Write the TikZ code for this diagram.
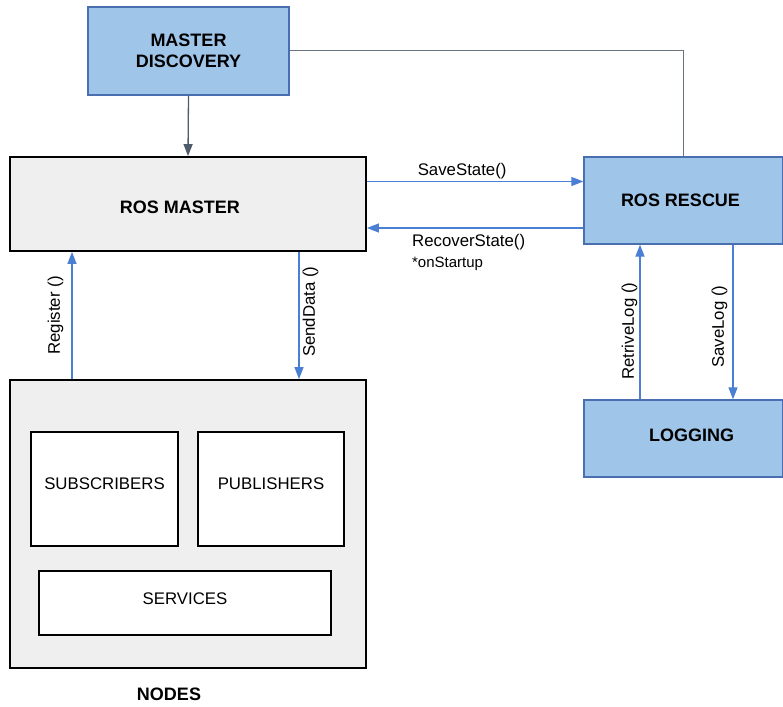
\documentclass[tikz,border=0pt]{standalone}
\usepackage{fontspec}
\setmainfont{Liberation Sans}
\usetikzlibrary{arrows.meta}
\definecolor{lblue}{HTML}{9FC5E8}
\definecolor{bblue}{HTML}{4A6FB0}
\definecolor{ablue}{HTML}{4A7FD4}
\definecolor{agray}{HTML}{4F5B6B}
\definecolor{lgray}{HTML}{EFEFEF}
\tikzset{
  bluebox/.style={draw=bblue, fill=lblue, line width=1.3pt, inner sep=0pt, font=\fontsize{18}{21.5}\selectfont\bfseries, align=center},
  graybox/.style={draw=black, fill=lgray, line width=1.8pt, inner sep=0pt, font=\fontsize{18}{21.5}\selectfont\bfseries},
  whitebox/.style={draw=black, fill=white, line width=1.6pt, inner sep=0pt},
  lbl/.style={font=\fontsize{16.8}{18}\selectfont},
  arr/.style={draw=ablue, line width=1.3pt, -{Triangle[length=12pt,width=9pt]}},
  garr/.style={draw=agray, line width=1.3pt, -{Triangle[length=12pt,width=9pt]}},
  gline/.style={draw=agray!85, line width=1pt},
}
\begin{document}
\begin{tikzpicture}[x=1pt,y=-1pt]
\useasboundingbox (0,0) rectangle (783,706);
% boxes
\node[bluebox, minimum width=201pt, minimum height=88pt] (md) at (188.5,51) {MASTER\\DISCOVERY};
\node[graybox, minimum width=356pt, minimum height=94pt,
      label={[font=\fontsize{18}{21.5}\selectfont\bfseries, xshift=-8pt, yshift=-3pt]center:ROS MASTER}] (rm) at (188,204) {};
\node[bluebox, minimum width=199pt, minimum height=87pt,
      label={[font=\fontsize{18}{21.5}\selectfont\bfseries, xshift=-3pt, yshift=0pt]center:ROS RESCUE}] (rescue) at (683.5,200.5) {};
\node[bluebox, minimum width=199pt, minimum height=77pt,
      label={[font=\fontsize{18}{21.5}\selectfont\bfseries, xshift=8pt, yshift=3pt]center:LOGGING}] (log) at (683.5,438.5) {};
\node[graybox, minimum width=356pt, minimum height=288pt] (nodes) at (188,524) {};
\node[whitebox, minimum width=147pt, minimum height=114pt,
      label={[lbl, yshift=5pt]center:SUBSCRIBERS}] (sub) at (104.5,489) {};
\node[whitebox, minimum width=146pt, minimum height=114pt,
      label={[lbl, yshift=5pt]center:PUBLISHERS}] (pub) at (271,489) {};
\node[whitebox, minimum width=292pt, minimum height=64pt,
      label={[lbl, yshift=4pt]center:SERVICES}] (srv) at (185,603) {};
\node[font=\fontsize{18}{21.5}\selectfont\bfseries] (nodeslbl) at (169,694) {NODES};
% connectors
\draw[garr] (md.south) -- (rm.north);
\draw[gline] (md.east) -| (rescue.north);
\draw[arr] (rm.east |- 0,181.5) -- (rescue.west |- 0,181.5)
  node[lbl, pos=0.44, anchor=south, inner sep=2pt] (savestate) {SaveState()};
\draw[arr] (rescue.west |- 0,228) -- (rm.east |- 0,228)
  node[lbl, pos=0.53, anchor=north, align=left, inner sep=0pt, yshift=-6pt] (recover) {RecoverState()\\[3pt]{\fontsize{15}{18}\selectfont *onStartup}};
\draw[arr] (nodes.north -| 72,0) -- (rm.south -| 72,0)
  node[lbl, pos=0.5, rotate=90, anchor=south, inner sep=8pt] (register) {Register ()};
\draw[arr] (rm.south -| 299,0) -- (nodes.north -| 299,0)
  node[lbl, pos=0.47, rotate=90, anchor=north, inner sep=3pt] (senddata) {SendData ()};
\draw[arr] (log.north -| 640,0) -- (rescue.south -| 640,0)
  node[lbl, pos=0.44, rotate=90, anchor=south, inner sep=2pt] (retrive) {RetriveLog ()};
\draw[arr] (rescue.south -| 733,0) -- (log.north -| 733,0)
  node[lbl, pos=0.53, rotate=90, anchor=south, inner sep=5pt] (savelog) {SaveLog ()};
\end{tikzpicture}
\end{document}
